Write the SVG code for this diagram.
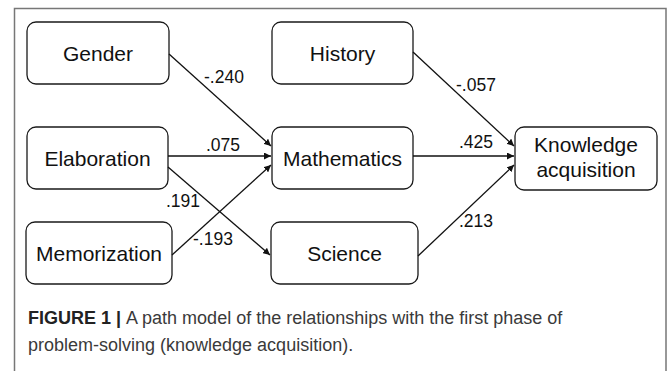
<svg xmlns="http://www.w3.org/2000/svg" width="669" height="371" viewBox="0 0 669 371">
<style>
.node rect{fill:#fff;stroke:#1a1a1a;stroke-width:1.3}
.node text{font-family:"Liberation Sans",Arial,sans-serif;font-size:21px;fill:#111;text-anchor:middle}
.lbl{font-family:"Liberation Sans",Arial,sans-serif;font-size:17.5px;fill:#111}
.edge{stroke:#111;stroke-width:1.3;fill:none;marker-end:url(#ah)}
.cap{font-family:"Liberation Sans",Arial,sans-serif;font-size:18px;fill:#3a3a3a}
</style>
<defs>
<marker id="ah" viewBox="0 0 10 10" refX="10" refY="5" markerWidth="7" markerHeight="7" markerUnits="userSpaceOnUse" orient="auto">
<path d="M0,0 L10,5 L0,10 z" fill="#111"/>
</marker>
</defs>
<rect x="0" y="0" width="669" height="371" fill="#fff"/>
<path d="M14.5,380 V8.5 H666 V380" fill="none" stroke="#777" stroke-width="1.5"/>
<g id="gender" class="node"><rect x="27" y="22" width="142" height="62" rx="9"/><text x="98" y="60.5">Gender</text></g>
<g id="history" class="node"><rect x="272" y="22" width="141" height="62" rx="9"/><text x="342.5" y="60.5">History</text></g>
<g id="elaboration" class="node"><rect x="27" y="127" width="141" height="62" rx="9"/><text x="97.5" y="165.5">Elaboration</text></g>
<g id="mathematics" class="node"><rect x="272" y="127" width="141" height="62" rx="9"/><text x="342.5" y="165.5">Mathematics</text></g>
<g id="knowledge" class="node"><rect x="515" y="127" width="142" height="63" rx="9"/><text x="586" y="152">Knowledge</text><text x="586" y="177">acquisition</text></g>
<g id="memorization" class="node"><rect x="26" y="222" width="146" height="62" rx="9"/><text x="99" y="260.5">Memorization</text></g>
<g id="science" class="node"><rect x="271" y="222" width="147" height="62" rx="9"/><text x="344.5" y="260.5">Science</text></g>
<g id="connectors">
<line class="edge" x1="169" y1="54" x2="271" y2="146"/>
<line class="edge" x1="168" y1="156" x2="271" y2="156"/>
<line class="edge" x1="168" y1="167" x2="270" y2="255"/>
<line class="edge" x1="172" y1="255" x2="271" y2="165"/>
<line class="edge" x1="413" y1="52" x2="514" y2="146"/>
<line class="edge" x1="413" y1="156" x2="514" y2="156"/>
<line class="edge" x1="418" y1="256" x2="514" y2="165"/>
</g>
<g id="labels">
<text class="lbl" x="204" y="83">-.240</text>
<text class="lbl" x="206" y="151">.075</text>
<text class="lbl" x="166" y="207">.191</text>
<text class="lbl" x="193" y="245">-.193</text>
<text class="lbl" x="456" y="91">-.057</text>
<text class="lbl" x="459" y="148">.425</text>
<text class="lbl" x="459" y="227">.213</text>
</g>
<g id="caption">
<text class="cap" x="28" y="324"><tspan font-weight="bold" fill="#222">FIGURE 1 | </tspan>A path model of the relationships with the first phase of</text>
<text class="cap" x="28" y="351">problem-solving (knowledge acquisition).</text>
</g>
</svg>
